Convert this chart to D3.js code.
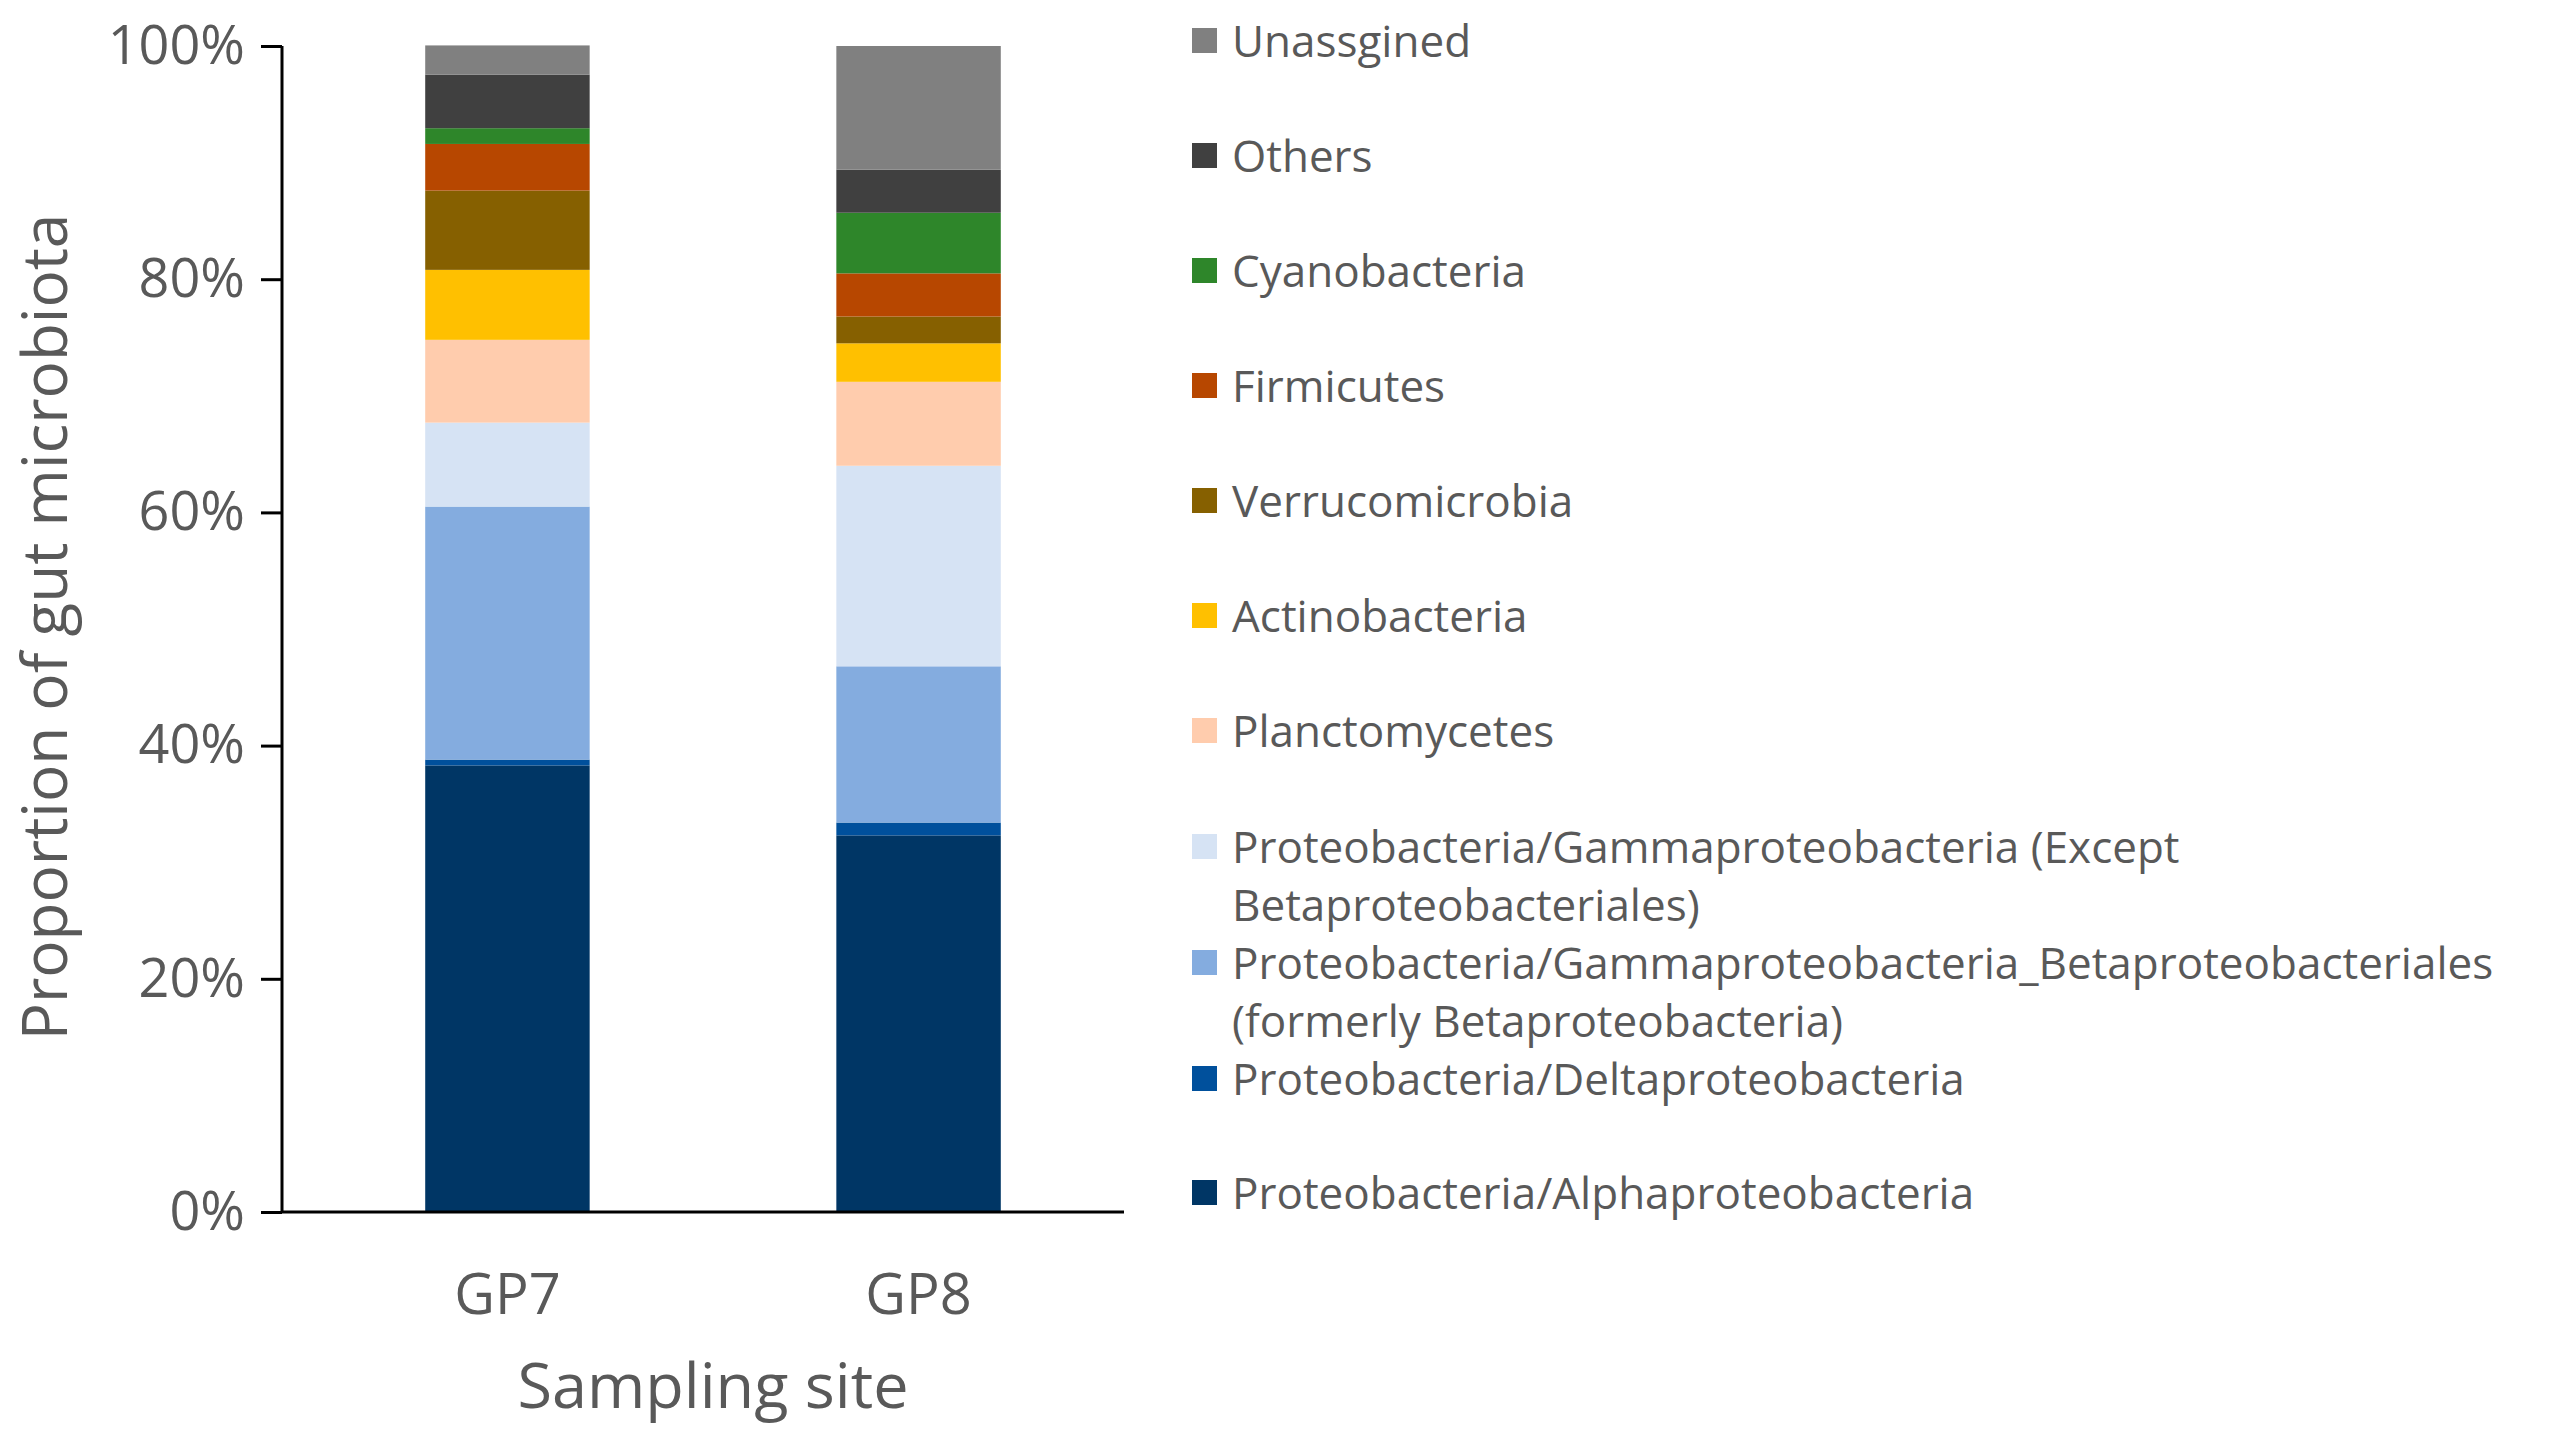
<!DOCTYPE html>
<html>
<head>
<meta charset="utf-8">
<script src="https://cdn.jsdelivr.net/npm/d3@7"></script>
<style>
body{margin:0;background:#fff;}
svg text{font-family:"Open Sans","Noto Sans",sans-serif;fill:#595959;}
</style>
</head>
<body>
<div id="chart"></div>
<script>
// data: sites, taxa (bottom to top), percent per site
var sites=["GP7","GP8"];
var taxa=[
	"Proteobacteria/Alphaproteobacteria",
	"Proteobacteria/Deltaproteobacteria",
	"Proteobacteria/Gammaproteobacteria_Betaproteobacteriales (formerly Betaproteobacteria)",
	"Proteobacteria/Gammaproteobacteria (Except Betaproteobacteriales)",
	"Planctomycetes",
	"Actinobacteria",
	"Verrucomicrobia",
	"Firmicutes",
	"Cyanobacteria",
	"Others",
	"Unassgined"
];
var gp7=[38.3,0.5,21.7,7.2,7.1,6.0,6.8,4.0,1.35,4.6,2.5];
var gp8=[32.3,1.1,13.4,17.2,7.2,3.3,2.3,3.7,5.2,3.7,10.6];
var colors=["#003665","#00509c","#84acdf","#d6e3f4","#ffccad","#ffc000","#866000","#b74700","#2e862a","#404040","#808080"];
// legend lines, split as in the picture
var legendLines=[
	["Proteobacteria/Alphaproteobacteria"],
	["Proteobacteria/Deltaproteobacteria"],
	["Proteobacteria/Gammaproteobacteria_Betaproteobacteriales","(formerly Betaproteobacteria)"],
	["Proteobacteria/Gammaproteobacteria (Except","Betaproteobacteriales)"],
	["Planctomycetes"],["Actinobacteria"],["Verrucomicrobia"],["Firmicutes"],
	["Cyanobacteria"],["Others"],["Unassgined"]
];
var yTicks=[0,20,40,60,80,100];

width=2555;
height=1446;

var svg=d3.select("#chart").append("svg").attr("width",width).attr("height",height);

var x=d3.scaleBand().domain(sites).range([292,1134]).paddingInner(0.6).paddingOuter(0.324);
var y=d3.scaleLinear().domain([0,100]).range([1212,46]);

//堆疊資料
var rows=sites.map(function(s,i){
	var vals=i==0?gp7:gp8;
	var o={site:s};
	taxa.forEach(function(t,j){o[t]=vals[j];});
	return o;
});
var series=d3.stack().keys(taxa)(rows);

svg.append("g").selectAll("g").data(series).enter().append("g")
	.attr("fill",function(d,i){return colors[i];})
	.selectAll("rect").data(function(d){return d;}).enter().append("rect")
	.attr("x",function(d){return x(d.data.site);})
	.attr("width",x.bandwidth())
	.attr("y",function(d){return y(d[1]);})
	.attr("height",function(d){return y(d[0])-y(d[1]);});

// y axis
var yAxis=svg.append("g").attr("transform","translate(282,0)")
	.call(d3.axisLeft(y).tickValues(yTicks)
		.tickFormat(function(d){return d+"%";}).tickSize(21).tickPadding(16));
yAxis.select(".domain").attr("stroke","#000").attr("stroke-width",3).attr("d","M0,46V1212");
yAxis.selectAll(".tick line").attr("stroke","#000").attr("stroke-width",3);
yAxis.selectAll(".tick text").style("font-size","54px").attr("fill","#595959");

// x axis
var xAxis=svg.append("g").attr("transform","translate(0,1212)")
	.call(d3.axisBottom(x).tickSize(0).tickPadding(62));
xAxis.select(".domain").attr("stroke","#000").attr("stroke-width",3).attr("d","M282,0H1124");
xAxis.selectAll(".tick text").style("font-size","56px").attr("fill","#595959");

// titles
svg.append("text").attr("transform","translate(50,627) rotate(-90)")
	.attr("text-anchor","middle").attr("dominant-baseline","middle")
	.style("font-size","62px").text("Proportion of gut microbiota");
svg.append("text").attr("x",713).attr("y",1408)
	.attr("text-anchor","middle").style("font-size","63px").text("Sampling site");

// legend (top to bottom)
var legY=[1192,1078,962,846,730,615,500,385,270,155,40];
var lg=svg.append("g").selectAll("g").data(legendLines).enter().append("g")
	.attr("transform",function(d,i){return "translate(1192,"+legY[i]+")";});
lg.append("rect").attr("x",0).attr("y",-12).attr("width",25).attr("height",25)
	.attr("fill",function(d,i){return colors[i];});
lg.each(function(d){
	var g=d3.select(this);
	d.forEach(function(line,k){
		g.append("text").attr("x",40).attr("y",k*58).attr("dominant-baseline","central")
			.style("font-size","44px").text(line);
	});
});
</script>
</body>
</html>
